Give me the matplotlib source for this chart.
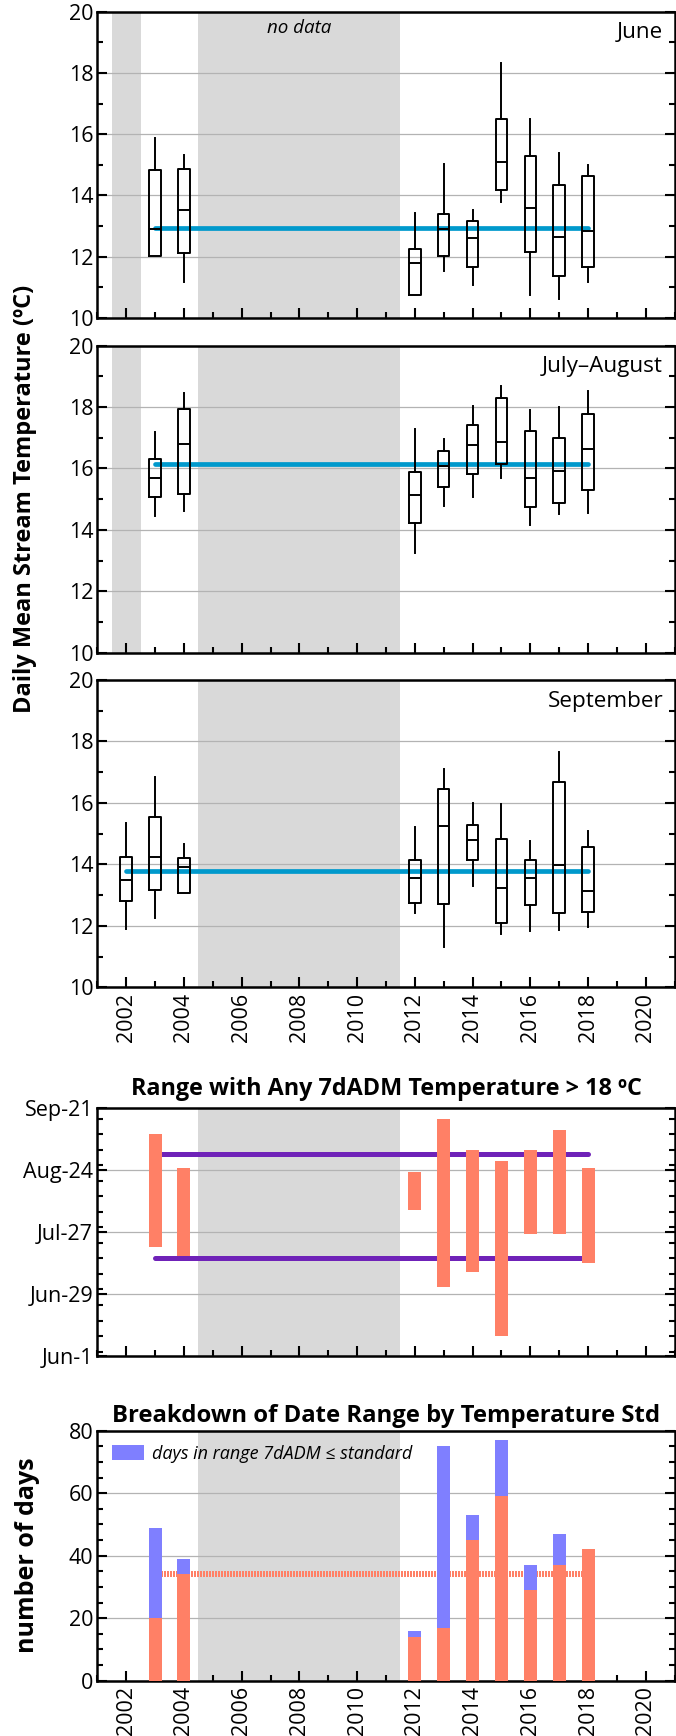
import numpy as np
import matplotlib.pyplot as plt
from matplotlib.ticker import MultipleLocator

plt.rcParams['font.family'] = ['Open Sans', 'DejaVu Sans']

# box plot data (daily mean temperature, ºC)
years_jun = [2003, 2004, 2012, 2013, 2014, 2015, 2016, 2017, 2018]
jun_lo = [12.03, 11.16, 10.76, 11.52, 11.08, 13.78, 10.74, 10.62, 11.16]
jun_q1 = [12.03, 12.12, 10.76, 12.03, 11.68, 14.18, 12.16, 11.36, 11.65]
jun_med = [12.92, 13.54, 11.78, 12.89, 12.60, 15.08, 13.60, 12.65, 12.83]
jun_q3 = [14.82, 14.88, 12.25, 13.38, 13.18, 16.51, 15.30, 14.33, 14.62]
jun_hi = [15.87, 15.32, 13.42, 15.02, 13.52, 18.32, 16.49, 15.38, 14.99]
jun_mean = 12.93

years_jul = [2003, 2004, 2012, 2013, 2014, 2015, 2016, 2017, 2018]
jul_lo = [14.46, 14.61, 13.26, 14.79, 15.08, 15.70, 14.17, 14.51, 14.56]
jul_q1 = [15.07, 15.17, 14.22, 15.40, 15.83, 16.13, 14.74, 14.88, 15.30]
jul_med = [15.70, 16.81, 15.15, 16.09, 16.76, 16.86, 15.70, 15.93, 16.62]
jul_q3 = [16.32, 17.95, 15.90, 16.58, 17.42, 18.31, 17.23, 17.00, 17.79]
jul_hi = [17.18, 18.45, 17.29, 16.95, 18.02, 18.69, 17.89, 17.99, 18.51]
jul_mean = 16.13

years_sep = [2002, 2003, 2004, 2012, 2013, 2014, 2015, 2016, 2017, 2018]
sep_lo = [11.89, 12.24, 13.07, 12.41, 11.32, 13.31, 11.72, 11.84, 11.85, 11.97]
sep_q1 = [12.82, 13.17, 13.07, 12.74, 12.71, 14.14, 12.09, 12.68, 12.42, 12.45]
sep_med = [13.50, 14.25, 13.93, 13.57, 15.24, 14.80, 13.24, 13.54, 13.99, 13.12]
sep_q3 = [14.25, 15.55, 14.22, 14.15, 16.46, 15.29, 14.83, 14.14, 16.68, 14.57]
sep_hi = [15.34, 16.83, 14.65, 15.21, 17.09, 15.99, 15.95, 14.75, 17.65, 15.08]
sep_mean = 13.79

# date range with 7dADM > 18 ºC (day of year)
years_rng = [2003, 2004, 2012, 2013, 2014, 2015, 2016, 2017, 2018]
rng_start = [201, 197, 218, 183, 190, 161, 207, 207, 194]
rng_end = [252, 237, 235, 259, 245, 240, 245, 254, 237]
rng_avg_start = 196
rng_avg_end = 243
date_ticks = [152, 180, 208, 236, 264]
date_labels = ['Jun-1', 'Jun-29', 'Jul-27', 'Aug-24', 'Sep-21']

# days in range
days_total = [49, 39, 16, 75, 53, 77, 37, 47, 42]
days_over = [20, 34, 14, 17, 45, 59, 29, 37, 42]
days_over_avg = 34

no_data_short = [(2001.5, 2002.5), (2004.5, 2011.5)]
no_data_long = [(2004.5, 2011.5)]

BLUE = '#0099cc'
ORANGE = '#ff8066'
PURPLE = '#6f22b8'
LBLUE = '#7f7fff'
GREY = '#d9d9d9'


def style_axis(ax, xlabels):
    ax.set_xlim(2001, 2021)
    ax.xaxis.set_major_locator(MultipleLocator(2))
    ax.xaxis.set_minor_locator(MultipleLocator(1))
    ax.tick_params(axis='both', which='both', direction='in', top=False, right=True,
                   labelsize=15.5, width=1.5, pad=3)
    ax.tick_params(which='major', length=7)
    ax.tick_params(which='minor', length=4)
    ax.yaxis.grid(True, color='#b3b3b3', lw=0.9)
    for s in ax.spines.values():
        s.set_linewidth(1.8)
    if xlabels:
        ax.tick_params(axis='x', labelrotation=90, pad=4)
    else:
        ax.tick_params(axis='x', labelbottom=False)


def box_panel(ax, years, lo, q1, med, q3, hi, mean, gaps, label):
    for a, b in gaps:
        ax.axvspan(a, b, color=GREY, lw=0, zorder=1)
    stats = [dict(whislo=l, q1=a, med=m, q3=b, whishi=h)
             for l, a, m, b, h in zip(lo, q1, med, q3, hi)]
    lp = dict(color='black', lw=1.4)
    ax.bxp(stats, positions=years, widths=0.4, showcaps=False, showfliers=False,
           manage_ticks=False, boxprops=lp, whiskerprops=lp, medianprops=lp,
           zorder=3)
    ax.plot([years[0], years[-1]], [mean, mean], color=BLUE, lw=3.4,
            solid_capstyle='round', zorder=2)
    ax.set_ylim(10, 20)
    ax.yaxis.set_major_locator(MultipleLocator(2))
    ax.yaxis.set_minor_locator(MultipleLocator(1))
    ax.text(0.98, 0.965, label, transform=ax.transAxes, ha='right', va='top',
            fontsize=16.2)


fig = plt.figure(figsize=(6.76, 17.36), dpi=100)
L, W = 0.144, 0.854
ax1 = fig.add_axes([L, 0.8168, W, 0.1765])
ax2 = fig.add_axes([L, 0.6240, W, 0.1769])
ax3 = fig.add_axes([L, 0.4313, W, 0.1770])
ax4 = fig.add_axes([L, 0.2189, W, 0.1430])
ax5 = fig.add_axes([L, 0.0319, W, 0.1440])

box_panel(ax1, years_jun, jun_lo, jun_q1, jun_med, jun_q3, jun_hi, jun_mean,
          no_data_short, 'June')
ax1.text(2008, 19.45, 'no data', ha='center', va='center', style='italic',
         fontsize=13.5)
box_panel(ax2, years_jul, jul_lo, jul_q1, jul_med, jul_q3, jul_hi, jul_mean,
          no_data_short, 'July\u2013August')
box_panel(ax3, years_sep, sep_lo, sep_q1, sep_med, sep_q3, sep_hi, sep_mean,
          no_data_long, 'September')
style_axis(ax1, False)
style_axis(ax2, False)
style_axis(ax3, True)
ax2.set_ylabel('Daily Mean Stream Temperature (ºC)', fontsize=17,
               fontweight='bold')
ax2.yaxis.set_label_coords(-0.104, 0.5)

# date range panel
for a, b in no_data_long:
    ax4.axvspan(a, b, color=GREY, lw=0, zorder=1)
ax4.bar(years_rng, np.array(rng_end) - np.array(rng_start), bottom=rng_start,
        width=0.45, color=ORANGE, zorder=3)
for d in (rng_avg_start, rng_avg_end):
    ax4.plot([years_rng[0], years_rng[-1]], [d, d], color=PURPLE, lw=3.6,
             solid_capstyle='round', zorder=2)
ax4.set_ylim(date_ticks[0], date_ticks[-1])
ax4.set_yticks(date_ticks, date_labels)
ax4.yaxis.set_minor_locator(MultipleLocator(7))
style_axis(ax4, False)
ax4.set_title('Range with Any 7dADM Temperature > 18 ºC', fontsize=16.8,
              fontweight='bold', pad=9)

# breakdown panel
for a, b in no_data_long:
    ax5.axvspan(a, b, color=GREY, lw=0, zorder=1)
ax5.bar(years_rng, np.array(days_total) - np.array(days_over), bottom=days_over,
        width=0.45, color=LBLUE, zorder=3, label='days in range 7dADM \u2264 standard')
ax5.bar(years_rng, days_over, width=0.45, color=ORANGE, zorder=3)
ax5.plot([years_rng[0], years_rng[-1]], [days_over_avg, days_over_avg],
         color=ORANGE, lw=4.3, linestyle=(0, (0.2, 0.25)), antialiased=False,
         zorder=2)
ax5.set_ylim(0, 80)
ax5.yaxis.set_major_locator(MultipleLocator(20))
ax5.yaxis.set_minor_locator(MultipleLocator(5))
style_axis(ax5, True)
ax5.set_title('Breakdown of Date Range by Temperature Std', fontsize=17.2,
              fontweight='bold', pad=6)
ax5.set_ylabel('number of days', fontsize=18, fontweight='bold')
ax5.yaxis.set_label_coords(-0.1, 0.5)
ax5.legend(loc='upper left', bbox_to_anchor=(0.0, 1.0), frameon=False,
           borderaxespad=0.4, handlelength=1.8, handleheight=0.9,
           handletextpad=0.4, prop=dict(style='italic', size=13))

fig.savefig('out.png', dpi=100)
